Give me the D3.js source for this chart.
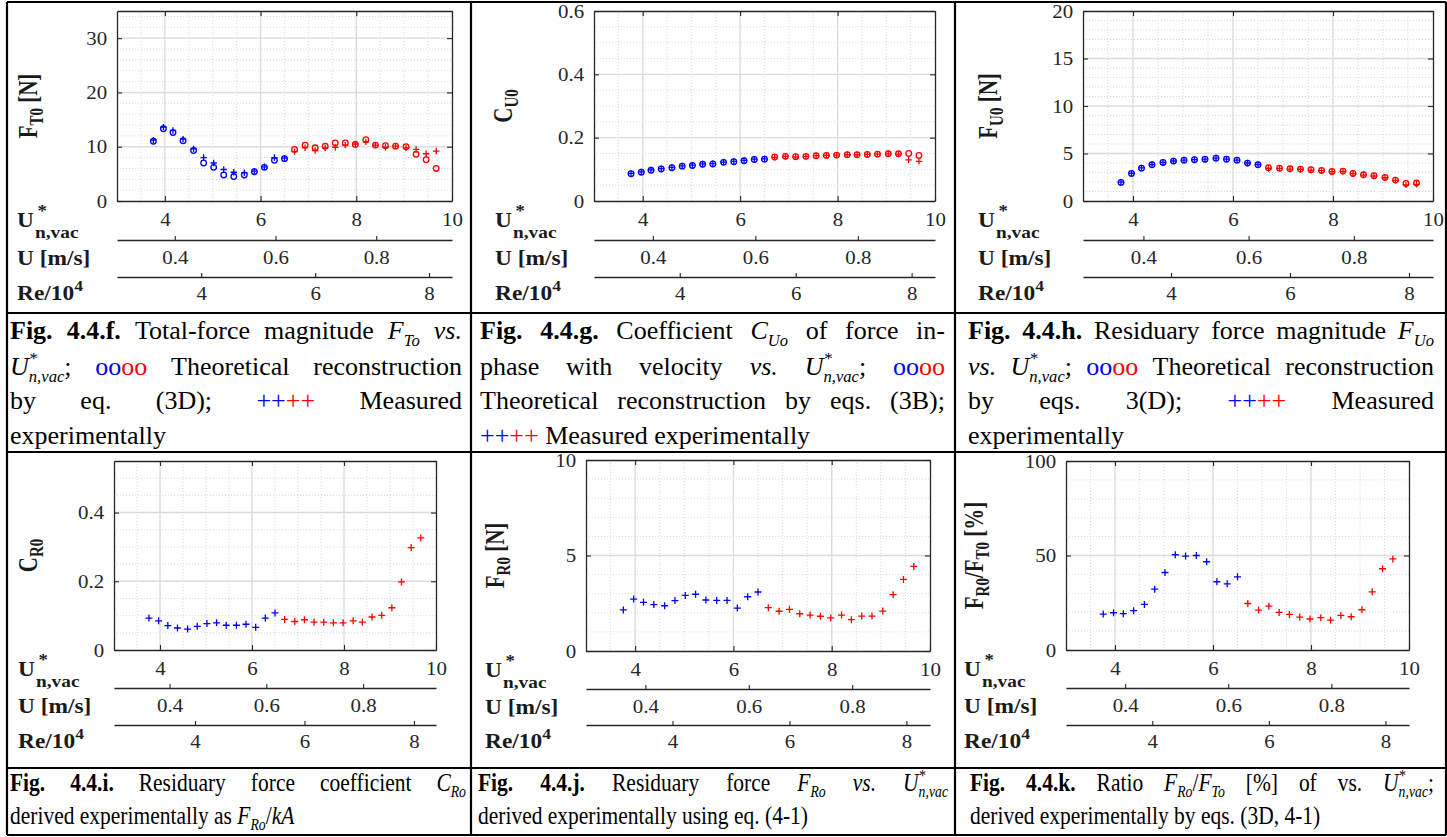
<!DOCTYPE html>
<html>
<head>
<meta charset="utf-8">
<script src="https://cdn.jsdelivr.net/npm/d3@7"></script>
<style>
body { margin: 0; background: #fff; }
svg text { font-family: "Liberation Serif", "Times New Roman", serif; }
</style>
</head>
<body>
<svg id="fig" width="1447" height="837"></svg>
<script>
// normalised velocity U*n,vac of each run (same runs in every panel)
var uStar = [3.76, 3.97, 4.17, 4.38, 4.60, 4.81, 5.02, 5.23, 5.44, 5.66, 5.87, 6.08, 6.29, 6.50,
             6.71, 6.93, 7.14, 7.35, 7.56, 7.77, 7.98, 8.20, 8.40, 8.61, 8.82, 9.04, 9.25, 9.46, 9.67];
var nBlue = 14;   // first runs are blue, the rest red

// 4.4.f  total force F_To [N]
var fTo_theo = [11.0, 13.3, 12.6, 11.1, 9.3, 7.0, 6.2, 4.8, 4.5, 4.8, 5.4, 6.2, 7.5, 7.8,
                9.5, 10.3, 9.8, 10.1, 10.7, 10.7, 10.4, 11.3, 10.3, 10.2, 10.1, 10.0, 8.6, 7.6, 6.0];
var fTo_meas = [11.2, 13.6, 13.0, 11.4, 9.6, 8.0, 7.0, 5.8, 5.3, 5.2, 5.5, 6.3, 8.0, 7.9,
                9.1, 9.8, 9.3, 9.8, 9.9, 10.3, 10.5, 10.9, 10.3, 9.9, 10.1, 9.8, 9.5, 8.7, 9.2];
// 4.4.g  coefficient C_Uo
var cUo_theo = [0.086, 0.091, 0.097, 0.101, 0.105, 0.110, 0.112, 0.116, 0.117, 0.122, 0.124, 0.127, 0.131, 0.132,
                0.139, 0.141, 0.140, 0.141, 0.143, 0.144, 0.145, 0.146, 0.146, 0.147, 0.148, 0.149, 0.149, 0.150, 0.144];
var cUo_meas = [0.087, 0.092, 0.098, 0.102, 0.106, 0.111, 0.113, 0.117, 0.118, 0.123, 0.125, 0.128, 0.132, 0.133,
                0.138, 0.141, 0.139, 0.141, 0.143, 0.144, 0.145, 0.146, 0.146, 0.147, 0.148, 0.149, 0.148, 0.130, 0.125];
// 4.4.h  force F_Uo [N]
var fUo_theo = [1.96, 2.90, 3.46, 3.81, 4.06, 4.20, 4.30, 4.34, 4.40, 4.51, 4.40, 4.30, 3.99, 3.81,
                3.50, 3.46, 3.39, 3.36, 3.29, 3.22, 3.11, 3.15, 2.90, 2.76, 2.66, 2.48, 2.20, 1.85, 1.89];
var fUo_meas = [1.98, 2.92, 3.48, 3.82, 4.07, 4.21, 4.31, 4.35, 4.41, 4.52, 4.41, 4.31, 4.00, 3.82,
                3.45, 3.43, 3.36, 3.34, 3.26, 3.20, 3.09, 3.12, 2.88, 2.73, 2.63, 2.45, 2.18, 1.70, 1.76];
// 4.4.i  coefficient C_Ro
var cRo_meas = [0.093, 0.085, 0.071, 0.064, 0.061, 0.069, 0.077, 0.079, 0.072, 0.072, 0.075, 0.066, 0.093, 0.108,
                0.089, 0.083, 0.088, 0.081, 0.081, 0.079, 0.079, 0.085, 0.081, 0.096, 0.101, 0.123, 0.198, 0.298, 0.326];
// 4.4.j  force F_Ro [N]
var fRo_meas = [2.15, 2.72, 2.55, 2.43, 2.37, 2.64, 2.91, 2.97, 2.67, 2.65, 2.65, 2.25, 2.84, 3.09,
                2.27, 2.08, 2.18, 1.95, 1.88, 1.82, 1.73, 1.88, 1.64, 1.83, 1.83, 2.09, 2.95, 3.75, 4.43];
// 4.4.k  ratio F_Ro/F_To [%]
var ratio_meas = [19.0, 19.7, 19.2, 20.8, 24.1, 32.2, 41.0, 50.4, 49.7, 50.0, 46.7, 36.1, 35.0, 38.7,
                  24.6, 21.1, 23.2, 19.9, 18.8, 17.4, 16.4, 17.1, 15.8, 18.3, 17.6, 21.3, 30.8, 43.0, 48.2];

// axes
var xDomain = [3, 10];
var xTicks = [4, 6, 8, 10];
var uTicks = [0.4, 0.6, 0.8];
var reTicks = [4, 6, 8];
var uFactor = 10.52;   // U*n,vac per m/s
var reFactor = 1.19;   // U*n,vac per Re/10^4

var blue = "#0000ff", red = "#ff0000", ink = "#262626";

var panels = [
  {l: 117, r: 452, t: 11, b: 201, uY: 240, reY: 277, rowX: 17, labX: 37,
   yDom: [0, 35], yTicks: [0, 10, 20, 30], yMinor: 2, theo: fTo_theo, meas: fTo_meas,
   ylab: [["F"], ["T0", "sub"], [" [N]"]]},
  {l: 594, r: 935, t: 11, b: 201, uY: 240, reY: 277, rowX: 495, labX: 512,
   yDom: [0, 0.6], yTicks: [0, 0.2, 0.4, 0.6], yMinor: 0.05, theo: cUo_theo, meas: cUo_meas,
   ylab: [["C"], ["U0", "sub"]]},
  {l: 1083, r: 1433, t: 11, b: 201, uY: 240, reY: 277, rowX: 978, labX: 997,
   yDom: [0, 20], yTicks: [0, 5, 10, 15, 20], yMinor: 1, theo: fUo_theo, meas: fUo_meas,
   ylab: [["F"], ["U0", "sub"], [" [N]"]]},
  {l: 114, r: 436, t: 461, b: 650, uY: 688, reY: 725, rowX: 18, labX: 37,
   yDom: [0, 0.55], yTicks: [0, 0.2, 0.4], yMinor: 0.05, meas: cRo_meas,
   ylab: [["C"], ["R0", "sub"]]},
  {l: 586, r: 930, t: 460, b: 651, uY: 689, reY: 725, rowX: 485, labX: 504,
   yDom: [0, 10], yTicks: [0, 5, 10], yMinor: 1, meas: fRo_meas,
   ylab: [["F"], ["R0", "sub"], [" [N]"]]},
  {l: 1066, r: 1409, t: 461, b: 650, uY: 688, reY: 725, rowX: 964, labX: 983,
   yDom: [0, 100], yTicks: [0, 50, 100], yMinor: 10, meas: ratio_meas,
   ylab: [["F"], ["R0", "sub"], ["/F"], ["T0", "sub"], [" [%]"]]}
];

var svg = d3.select("#fig");

function fmt(d) { return d === 0 ? "0" : (d % 1 === 0 ? String(d) : d3.format(".1f")(d)); }

function styleAxis(g) {
  g.attr("font-family", null);
  g.select(".domain").attr("stroke", ink).attr("stroke-width", 1.3);
  g.selectAll(".tick line").attr("stroke", ink).attr("stroke-width", 1.1);
  g.selectAll(".tick text").attr("fill", ink).style("font-size", "19px")
    .style("font-family", '"Liberation Serif", serif').attr("transform", "scale(1.1,1)");
}

panels.forEach(function(p) {
  var g = svg.append("g");
  var x = d3.scaleLinear().domain(xDomain).range([p.l, p.r]);
  var y = d3.scaleLinear().domain(p.yDom).range([p.b, p.t]);

  // minor grid
  var xm = d3.range(xDomain[0] + 0.5, xDomain[1], 0.5).filter(function(v) { return xTicks.indexOf(v) < 0; });
  var ym = d3.range(p.yDom[0] + p.yMinor, p.yDom[1] - 1e-9, p.yMinor).filter(function(v) {
    return !p.yTicks.some(function(t) { return Math.abs(t - v) < 1e-9; });
  });
  g.selectAll("line.xm").data(xm).join("line")
    .attr("x1", x).attr("x2", x).attr("y1", p.t).attr("y2", p.b)
    .attr("stroke", "#cfcfcf").attr("stroke-width", 0.8).attr("stroke-dasharray", "1,2");
  g.selectAll("line.ym").data(ym).join("line")
    .attr("x1", p.l).attr("x2", p.r).attr("y1", y).attr("y2", y)
    .attr("stroke", "#cfcfcf").attr("stroke-width", 0.8).attr("stroke-dasharray", "1,2");
  // major grid
  g.selectAll("line.xg").data([4, 6, 8]).join("line")
    .attr("x1", x).attr("x2", x).attr("y1", p.t).attr("y2", p.b)
    .attr("stroke", "#dcdcdc").attr("stroke-width", 1.4);
  g.selectAll("line.yg").data(p.yTicks.filter(function(v) { return v > p.yDom[0] && v < p.yDom[1]; })).join("line")
    .attr("x1", p.l).attr("x2", p.r).attr("y1", y).attr("y2", y)
    .attr("stroke", "#dcdcdc").attr("stroke-width", 1.4);

  // box with inward ticks on four sides
  g.append("g").attr("transform", "translate(0," + p.b + ")")
    .call(d3.axisBottom(x).tickValues(xTicks).tickSizeInner(-5).tickSizeOuter(0).tickPadding(12).tickFormat(fmt))
    .call(styleAxis);
  g.append("g").attr("transform", "translate(0," + p.t + ")")
    .call(d3.axisTop(x).tickValues(xTicks).tickSizeInner(-5).tickSizeOuter(0).tickFormat(""))
    .call(styleAxis);
  g.append("g").attr("transform", "translate(" + p.l + ",0)")
    .call(d3.axisLeft(y).tickValues(p.yTicks).tickSizeInner(-5).tickSizeOuter(0).tickPadding(9).tickFormat(fmt))
    .call(styleAxis);
  g.append("g").attr("transform", "translate(" + p.r + ",0)")
    .call(d3.axisRight(y).tickValues(p.yTicks).tickSizeInner(-5).tickSizeOuter(0).tickFormat(""))
    .call(styleAxis);

  // secondary scales: U [m/s] and Re/10^4
  var u = d3.scaleLinear().domain([xDomain[0] / uFactor, xDomain[1] / uFactor]).range([p.l, p.r]);
  var re = d3.scaleLinear().domain([xDomain[0] / reFactor, xDomain[1] / reFactor]).range([p.l, p.r]);
  g.append("g").attr("transform", "translate(0," + p.uY + ")")
    .call(d3.axisBottom(u).tickValues(uTicks).tickSizeInner(-4).tickSizeOuter(0).tickPadding(11).tickFormat(fmt))
    .call(styleAxis);
  g.append("g").attr("transform", "translate(0," + p.reY + ")")
    .call(d3.axisBottom(re).tickValues(reTicks).tickSizeInner(-4).tickSizeOuter(0).tickPadding(10).tickFormat(fmt))
    .call(styleAxis);

  // data
  if (p.theo) {
    g.selectAll("circle.theo").data(p.theo).join("circle")
      .attr("cx", function(d, i) { return x(uStar[i]); })
      .attr("cy", function(d) { return y(d); })
      .attr("r", 2.8).attr("fill", "none").attr("stroke-width", 1.3)
      .attr("stroke", function(d, i) { return i < nBlue ? blue : red; });
  }
  var arm = p.theo ? 3.2 : 3.5;
  g.selectAll("path.meas").data(p.meas).join("path")
    .attr("d", function(d, i) {
      var cx = x(uStar[i]), cy = y(d);
      return "M" + (cx - arm) + "," + cy + "h" + (2 * arm) + "M" + cx + "," + (cy - arm) + "v" + (2 * arm);
    })
    .attr("stroke-width", 1.3)
    .attr("stroke", function(d, i) { return i < nBlue ? blue : red; });

  // y label (rotated, slightly stretched like the source image)
  var yl = g.append("text")
    .attr("transform", "translate(" + p.labX + "," + ((p.t + p.b) / 2) + ") rotate(-90) scale(1,1.25)")
    .attr("text-anchor", "middle").attr("font-weight", "bold").attr("fill", "#1a1a1a")
    .style("font-size", "21px");
  var shift = 0;
  p.ylab.forEach(function(s) {
    var isSub = s[1] === "sub";
    var want = isSub ? 5 : 0;
    yl.append("tspan").attr("dy", want - shift).style("font-size", isSub ? "15px" : "21px").text(s[0]);
    shift = want;
  });

  // row labels on the left
  var rl = g.append("g").attr("transform", "translate(" + p.rowX + ",0) scale(1.17,1)")
    .attr("font-weight", "bold").attr("fill", "#1a1a1a");
  var tU = rl.append("text").attr("x", 0).attr("y", p.b + 26).style("font-size", "20px").text("U");
  var wU = tU.node().getComputedTextLength();
  rl.append("text").attr("x", wU + 3).attr("y", p.b + 15).style("font-size", "16px").text("*");
  rl.append("text").attr("x", wU + 1).attr("y", p.b + 37).style("font-size", "16.5px").text("n,vac");
  rl.append("text").attr("x", 0).attr("y", p.uY + 25).style("font-size", "20px").text("U [m/s]");
  var tRe = rl.append("text").attr("x", 0).attr("y", p.reY + 23).style("font-size", "20px");
  tRe.append("tspan").text("Re/10");
  tRe.append("tspan").attr("dy", -9).style("font-size", "15px").text("4");
});

// ---- table rules ----
var rules = [
  [7, 2, 1446, 2], [7, 313, 1446, 313], [7, 452, 1446, 452], [7, 768, 1446, 768], [7, 835, 1446, 835],
  [7, 2, 7, 835], [471, 2, 471, 835], [955, 2, 955, 835], [1446, 2, 1446, 835]
];
svg.selectAll("line.rule").data(rules).join("line")
  .attr("x1", function(d) { return d[0]; }).attr("y1", function(d) { return d[1]; })
  .attr("x2", function(d) { return d[2]; }).attr("y2", function(d) { return d[3]; })
  .attr("stroke", "#000").attr("stroke-width", 2.2);

// ---- captions ----
var captions = [
  {x: 10, w: 452, size: 26, sx: 1, sub: 0.27, ys: [339, 375, 409, 444], lines: [
    "<b>Fig.</b> <b>4.4.f.</b> Total-force magnitude <i>F</i><s>To</s> <i>vs.</i>",
    "<i>U</i><t>*</t><s>n,vac</s>; <B>oo</B><R>oo</R> Theoretical reconstruction",
    "by eq. (3D); <B>++</B><R>++</R> Measured",
    "experimentally"]},
  {x: 480, w: 465, size: 26, sx: 1, sub: 0.27, ys: [339, 375, 409, 444], lines: [
    "<b>Fig.</b> <b>4.4.g.</b> Coefficient <i>C</i><s>Uo</s> of force in-",
    "phase with velocity <i>vs.</i> <i>U</i><t>*</t><s>n,vac</s>; <B>oo</B><R>oo</R>",
    "Theoretical reconstruction by eqs. (3B);",
    "<B>++</B><R>++</R> Measured experimentally"]},
  {x: 968, w: 466, size: 26, sx: 1, sub: 0.27, ys: [339, 375, 409, 444], lines: [
    "<b>Fig.</b> <b>4.4.h.</b> Residuary force magnitude <i>F</i><s>Uo</s>",
    "<i>vs.</i> <i>U</i><t>*</t><s>n,vac</s>; <B>oo</B><R>oo</R> Theoretical reconstruction",
    "by eqs. 3(D); <B>++</B><R>++</R> Measured",
    "experimentally"]},
  {x: 10, w: 456, size: 25, sx: 0.86, sub: 0.22, ys: [791, 824], lines: [
    "<b>Fig.</b> <b>4.4.i.</b> Residuary force coefficient <i>C</i><s>Ro</s>",
    "derived experimentally as <i>F</i><s>Ro</s>/<i>kA</i>"]},
  {x: 478, w: 470, size: 25, sx: 0.86, sub: 0.22, ys: [791, 824], lines: [
    "<b>Fig.</b> <b>4.4.j.</b> Residuary force <i>F</i><s>Ro</s> <i>vs.</i> <i>U</i><t>*</t><s>n,vac</s>",
    "derived experimentally using eq. (4-1)"]},
  {x: 970, w: 464, size: 25, sx: 0.86, sub: 0.22, ys: [791, 824], lines: [
    "<b>Fig.</b> <b>4.4.k.</b> Ratio <i>F</i><s>Ro</s>/<i>F</i><s>To</s> [%] of vs. <i>U</i><t>*</t><s>n,vac</s>;",
    "derived experimentally by eqs. (3D, 4-1)"]}
];

function parseWord(w) {
  var re = /<(\w)>(.*?)<\/\1>|([^<]+)/g, m, runs = [];
  while ((m = re.exec(w)) !== null) {
    if (m[3] !== undefined) runs.push({txt: m[3], tag: ""});
    else runs.push({txt: m[2], tag: m[1]});
  }
  return runs;
}

// one <text> per caption line; every run is a tspan placed at an explicit x
function drawLine(str, x, y, c, justify) {
  var size = c.size;
  var text = svg.append("text")
    .attr("transform", "translate(" + x + "," + y + ") scale(" + c.sx + ",1)")
    .style("font-size", size + "px").attr("fill", "#000");
  var words = str.split(" ").map(function(w) {
    var cur = 0, spans = [], supAt = null, supW = 0;
    parseWord(w).forEach(function(r) {
      var small = r.tag === "s" || r.tag === "t";
      var ts = text.append("tspan")
        .attr("y", r.tag === "s" ? size * c.sub : (r.tag === "t" ? -size * 0.42 : 0))
        .style("font-size", (small ? size * 0.64 : size) + "px")
        .attr("font-weight", r.tag === "b" ? "bold" : "normal")
        .attr("font-style", (r.tag === "i" || small) ? "italic" : "normal")
        .attr("fill", r.tag === "B" ? blue : (r.tag === "R" ? red : "#000"))
        .text(r.txt);
      var tw = ts.node().getComputedTextLength();
      if (r.tag === "t") { supAt = cur; supW = tw; spans.push({el: ts, off: cur}); }
      else if (r.tag === "s" && supAt !== null) {
        spans.push({el: ts, off: supAt});
        cur = supAt + Math.max(tw, supW); supAt = null;
      } else { spans.push({el: ts, off: cur}); cur += tw; }
    });
    return {spans: spans, w: cur};
  });
  var total = d3.sum(words, function(d) { return d.w; });
  var gap = size * 0.25;
  if (justify && words.length > 1) gap = (c.w / c.sx - total) / (words.length - 1);
  var cx = 0;
  words.forEach(function(d) {
    d.spans.forEach(function(s) { s.el.attr("x", cx + s.off); });
    cx += d.w + gap;
  });
}

captions.forEach(function(c) {
  c.lines.forEach(function(str, i) {
    drawLine(str, c.x, c.ys[i], c, i < c.lines.length - 1);
  });
});
</script>
</body>
</html>
